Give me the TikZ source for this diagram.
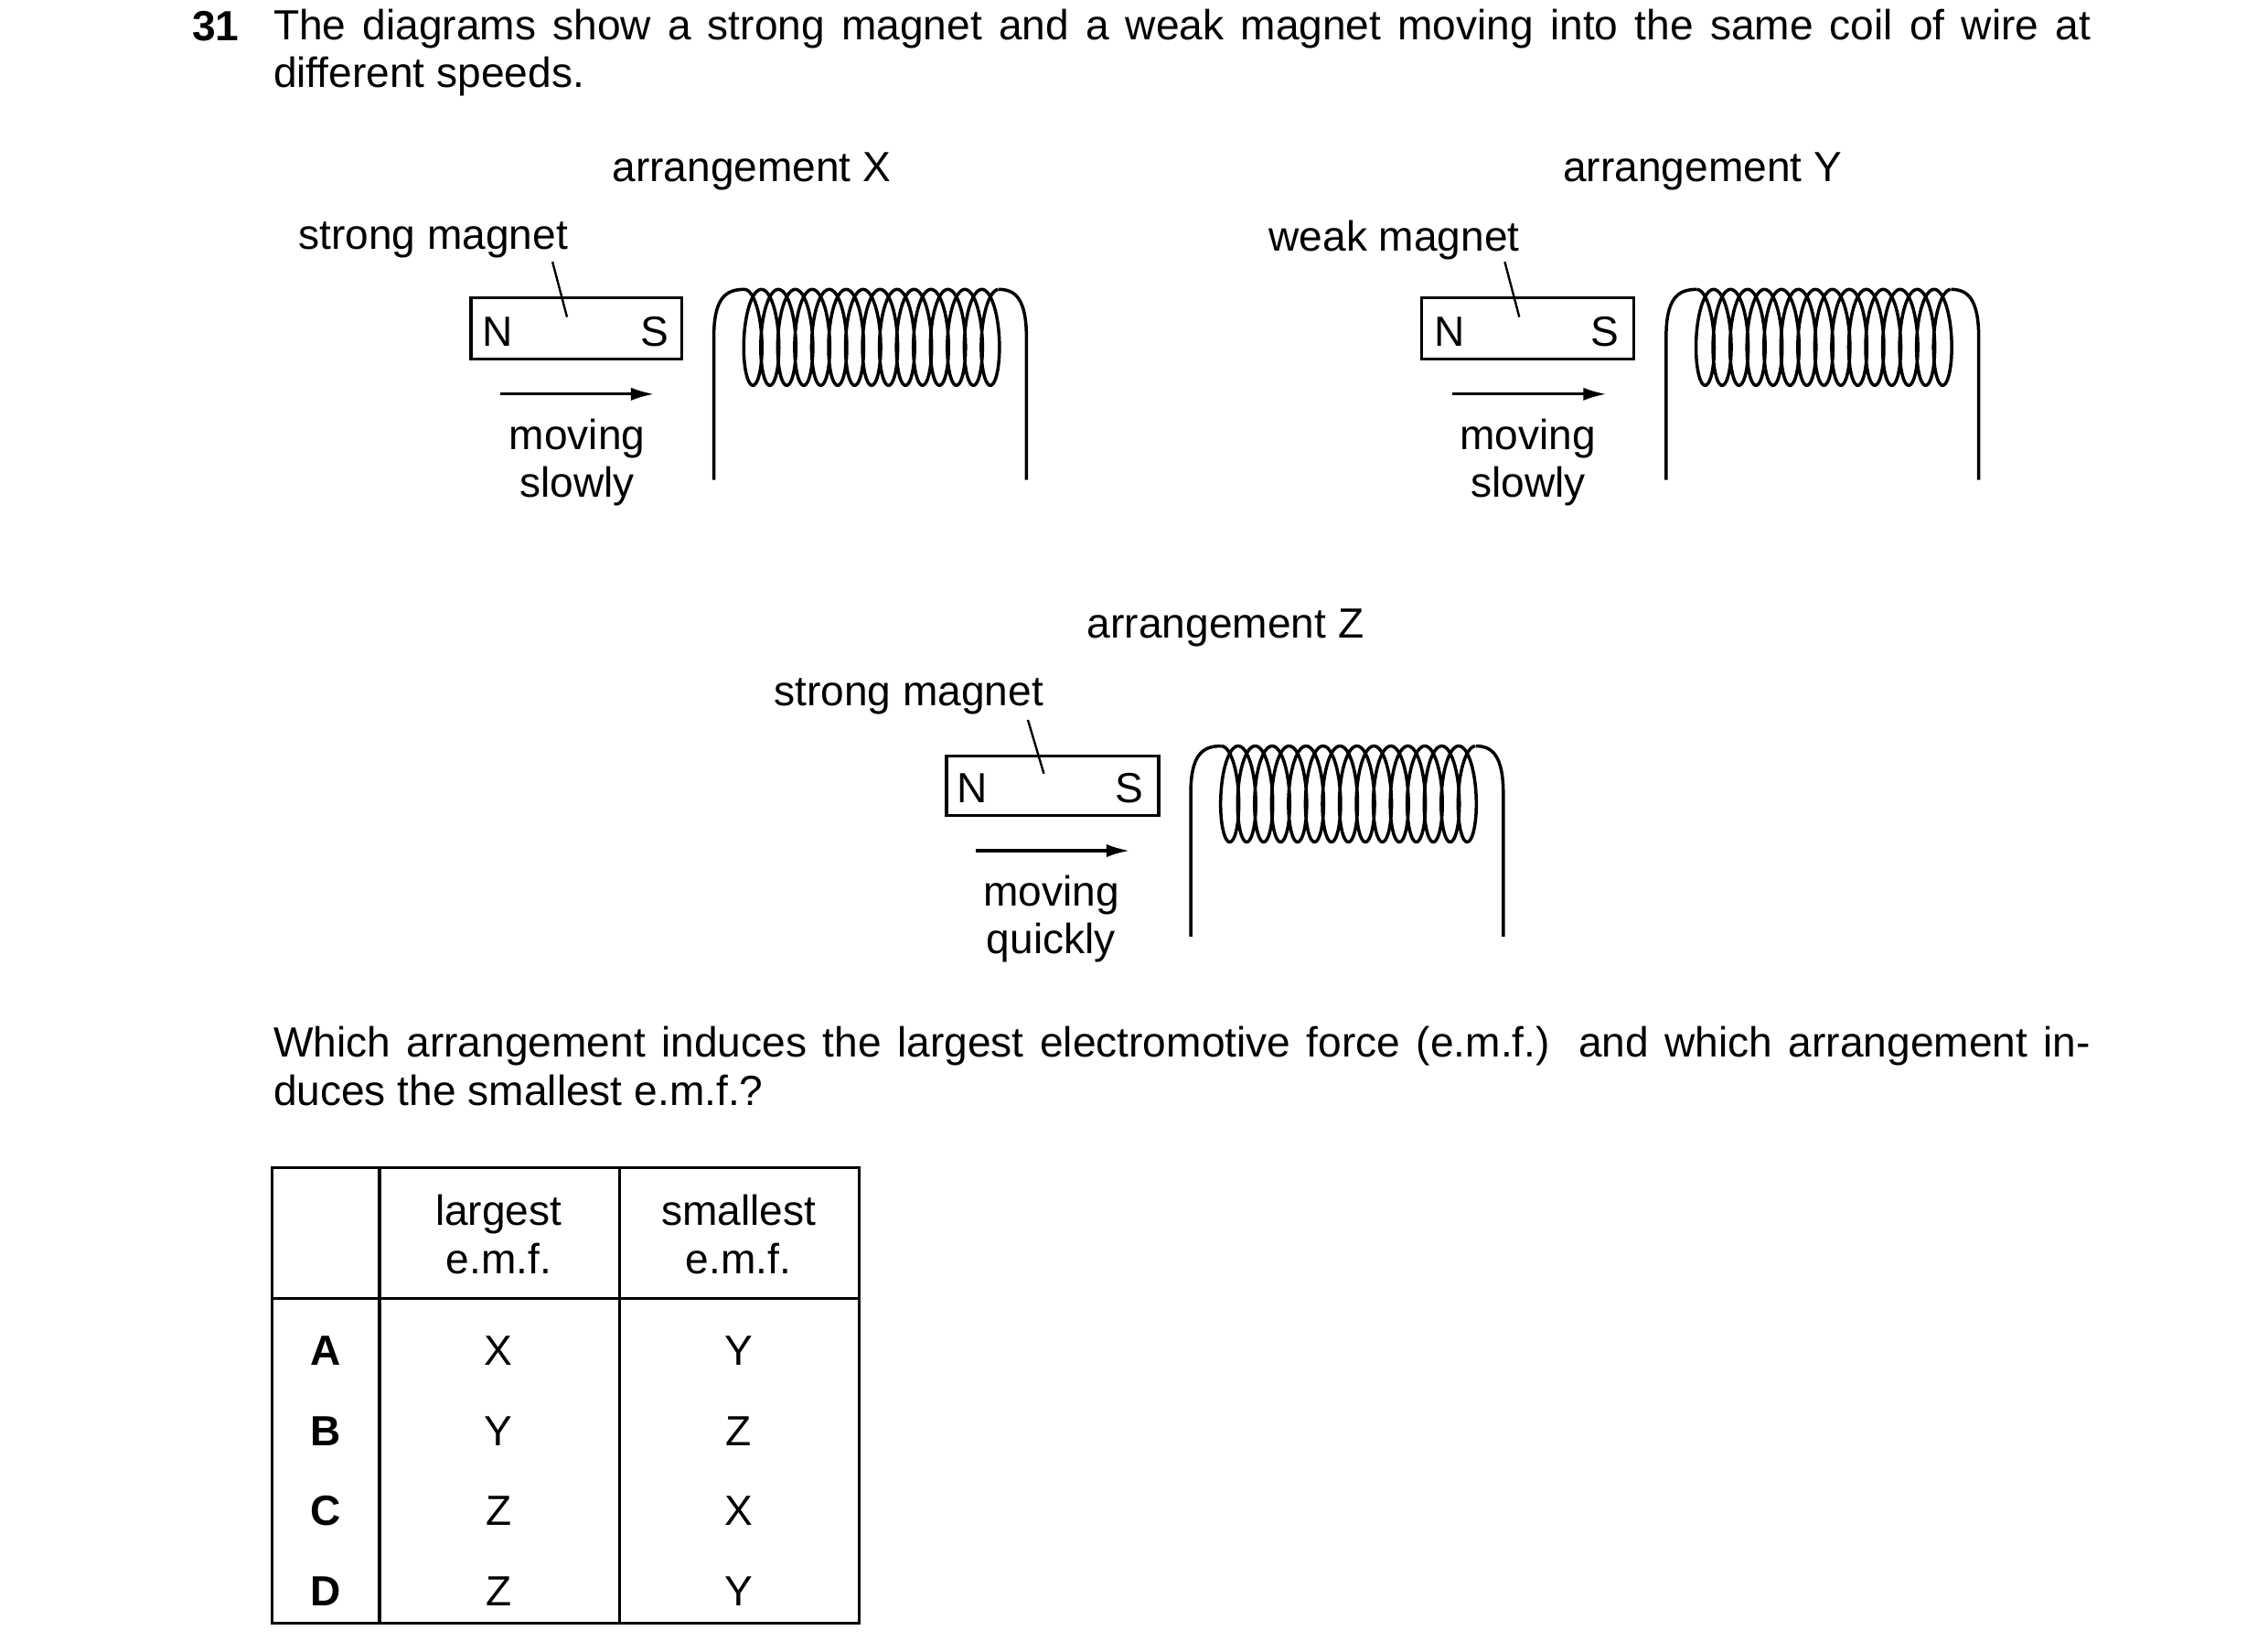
\documentclass[tikz,border=0pt]{standalone}
\usepackage{fontspec}
\setmainfont{Liberation Sans}
\usetikzlibrary{arrows.meta}
\begin{document}
\begin{tikzpicture}[x=1pt,y=-1pt,line width=2.2pt,
  txt/.style={font=\fontsize{29}{33}\selectfont,inner sep=0pt},
  mag/.style={draw,line width=2pt},
  arr/.style={line width=2pt,-{Latex[length=16pt,width=9pt]}},
  lead/.style={line width=1.5pt}]
\useasboundingbox (0,0) rectangle (1560,1136);
\newcommand\coil[2]{%
  \draw[line join=round] (#1,#2+330) -- (#1,#2+232) .. controls (#1,#2+205) and (#1+8,#2+199) .. (#1+21,#2+199);
  \draw[variable=\t,domain=0:15,samples=900,smooth] plot ({#1+21+11.667*\t+9*sin(360*\t)},{#2+232-33*cos(360*\t)});
  \draw (#1+196,#2+199) .. controls (#1+207,#2+199) and (#1+215,#2+205) .. (#1+215,#2+232) -- (#1+215,#2+330);}
% question
\node[txt,anchor=base west,font=\fontsize{29}{33}\selectfont\bfseries] (q) at (131,28) {31};
\node[txt,anchor=north west,text width=1250pt,align=justify] (qt) at (187,5) {The diagrams show a strong magnet and a weak magnet moving into the same coil of wire at different speeds.};
% X
\node[txt] (ax) at (517,118) {arrangement X};
\node[txt] (sx) at (298,165) {strong magnet};
\node[mag,minimum width=145pt,minimum height=42pt] (mx) at (396.5,226) {};
\node[txt] (nx) at (342,228) {N};
\node[txt] (ssx) at (450,228) {S};
\coordinate (lx1) at (380,180); \coordinate (lx2) at (390,218);
\draw[lead] (lx1) -- (lx2);
\coordinate (rx1) at (344,271); \coordinate (rx2) at (450,271);
\draw[arr] (rx1) -- (rx2);
\node[txt,align=center] (tx) at (397,318) {moving\\slowly};
\coil{491}{0}
% Y
\node[txt] (ay) at (1171,118) {arrangement Y};
\node[txt] (wy) at (959,165) {weak magnet};
\node[mag,minimum width=146pt,minimum height=42pt] (my) at (1051,226) {};
\node[txt] (ny) at (997,228) {N};
\node[txt] (ssy) at (1104,228) {S};
\coordinate (ly1) at (1035,180); \coordinate (ly2) at (1045,218);
\draw[lead] (ly1) -- (ly2);
\coordinate (ry1) at (999,271); \coordinate (ry2) at (1105,271);
\draw[arr] (ry1) -- (ry2);
\node[txt,align=center] (ty) at (1051,318) {moving\\slowly};
\coil{1146}{0}
% Z
\node[txt] (az) at (843,432) {arrangement Z};
\node[txt] (sz) at (625,479) {strong magnet};
\node[mag,minimum width=146pt,minimum height=41pt] (mz) at (724,540.5) {};
\node[txt] (nz) at (669,542) {N};
\node[txt] (ssz) at (777,542) {S};
\coordinate (lz1) at (707,495); \coordinate (lz2) at (718,532);
\draw[lead] (lz1) -- (lz2);
\coordinate (rz1) at (671,585); \coordinate (rz2) at (777,585);
\draw[arr] (rz1) -- (rz2);
\node[txt,align=center] (tz) at (723,632) {moving\\quickly};
\coil{819}{314}
% question 2
\node[txt,anchor=north west,text width=1250pt,align=justify] (q2) at (187,705) {Which arrangement induces the largest electromotive force (e.m.f.) and which arrangement induces the smallest e.m.f.?};
% table
\draw[line width=2pt] (187,803) rectangle (591,1116);
\draw[line width=2pt] (261,803) -- (261,1116) (426,803) -- (426,1116) (187,893) -- (591,893);
\node[txt,align=center] (h1) at (343,849) {largest\\e.m.f.};
\node[txt,align=center] (h2) at (508,849) {smallest\\e.m.f.};
\foreach \L/\a/\b [count=\i] in {A/X/Y,B/Y/Z,C/Z/X,D/Z/Y}{
  \node[txt,font=\fontsize{29}{33}\selectfont\bfseries] (r\i) at (224,929+55*\i-55) {\L};
  \node[txt] (a\i) at (343,929+55*\i-55) {\a};
  \node[txt] (b\i) at (508,929+55*\i-55) {\b};
}
\end{tikzpicture}
\end{document}
